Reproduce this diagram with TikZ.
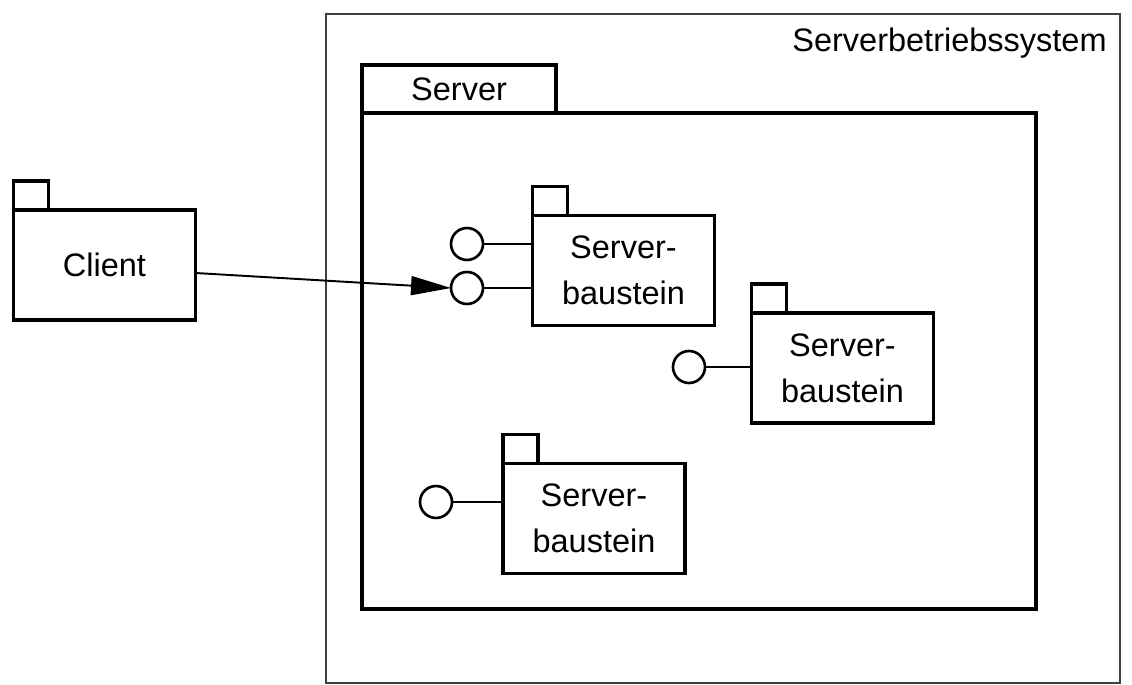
\documentclass[tikz,border=0pt]{standalone}
\usepackage{fontspec}
\setmainfont{Liberation Sans}
\usetikzlibrary{positioning,arrows.meta}

\tikzset{
  pkg/.style={draw,line width=2.2pt,outer sep=0pt,inner sep=0pt,
    minimum width=3.64cm,minimum height=2.2cm,align=center},
  pkgtab/.style={draw,line width=2.2pt,outer sep=0pt,inner sep=0pt,
    minimum width=0.7cm,minimum height=0.58cm,anchor=south west},
  iface/.style={draw,circle,line width=1.5pt,outer sep=0pt,inner sep=0pt,
    minimum size=0.64cm},
  ifaceline/.style={line width=1.1pt},
}

\begin{document}
\begin{tikzpicture}[x=0.02cm,y=-0.02cm,
    font=\fontsize{18.5}{26}\selectfont]
 \useasboundingbox (0,0) rectangle (1132,685);
 % Betriebssystem
 \node[draw=black!75,line width=1pt,outer sep=0pt,minimum width=15.88cm,
   minimum height=13.38cm] (os) at (723,348.5) {};
 \node[anchor=base east,inner sep=0pt] (oslabel) at (1107,52) {Serverbetriebssystem};
 % Server
 \node[pkg,minimum width=13.48cm,minimum height=9.92cm] (server) at (699,361) {};
 \node[pkgtab,minimum width=3.88cm,minimum height=0.96cm] (servertab)
   at (server.north west) {Server};
 % Client
 \node[pkg] (client) at (104.5,265) {Client};
 \node[pkgtab] (clienttab) at (client.north west) {};
 % Serverbausteine
 \node[pkg] (sb1) at (623.5,270.5) {Server-\\baustein};
 \node[pkgtab] (sb1tab) at (sb1.north west) {};
 \node[pkg] (sb2) at (842.5,368) {Server-\\baustein};
 \node[pkgtab] (sb2tab) at (sb2.north west) {};
 \node[pkg] (sb3) at (594,518.5) {Server-\\baustein};
 \node[pkgtab] (sb3tab) at (sb3.north west) {};
 % Schnittstellen
 \node[iface] (sb1a) at (467,244) {};
 \node[iface] (sb1b) at (467,288) {};
 \node[iface] (sb2a) at (689,367) {};
 \node[iface] (sb3a) at (436,502) {};
 \draw[ifaceline] (sb1a) -- (sb1a -| sb1.west);
 \draw[ifaceline] (sb1b) -- (sb1b -| sb1.west);
 \draw[ifaceline] (sb2a) -- (sb2a -| sb2.west);
 \draw[ifaceline] (sb3a) -- (sb3a -| sb3.west);
 \draw[line width=1.1pt,-{Triangle[length=0.8cm,width=0.38cm]}]
   ([yshift=-0.16cm]client.east) -- (sb1b.west);
\end{tikzpicture}
\end{document}
